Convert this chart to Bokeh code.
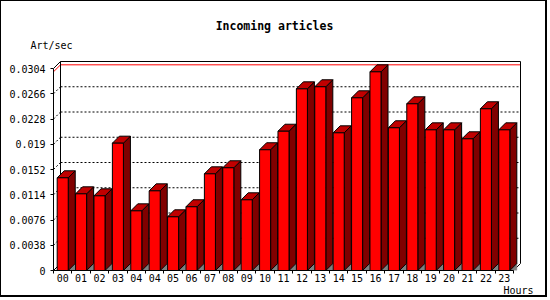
from bokeh.plotting import figure
from bokeh.models import FixedTicker, Title
from bokeh.embed import file_html
from bokeh.resources import INLINE

# ---------------- data ----------------
hours = ["00", "01", "02", "03", "04", "04", "05", "06", "07", "08", "09", "10",
         "11", "12", "13", "14", "15", "16", "17", "18", "19", "20", "21", "22", "23"]
rates = [0.01395, 0.01154, 0.01124, 0.01916, 0.00898, 0.01199, 0.00808, 0.00959,
         0.01455, 0.01546, 0.01064, 0.01817, 0.02096, 0.02734, 0.02765, 0.02072,
         0.02599, 0.02990, 0.02148, 0.02509, 0.02117, 0.02117, 0.01982, 0.02434,
         0.02117]
y_tick_labels = ["0", "0.0038", "0.0076", "0.0114", "0.0152", "0.019",
                 "0.0228", "0.0266", "0.0304"]
title_text = "Incoming articles"
y_label = "Art/sec"
x_label = "Hours"

# ---------------- geometry (page pixels) ----------------
FONT = "DejaVu Sans Mono"
BL, BT, BR, BB = 1, 1, 2, 2          # page border widths
CW, CH = 550 - BL - BR, 300 - BT - BB
FL, FB = 53, 270                     # front-left / front-bottom of the plot
STEP = 18.4                          # px per category
FRONT_TOP_PX = 68                    # page y of the top tick
DEPTH = 7                            # 3-D depth in px

n = len(hours)
y_ticks = [float(s) for s in y_tick_labels]
YMAX = y_ticks[-1]
YPX = (FB - FRONT_TOP_PX) / YMAX
dx = DEPTH / STEP
dy = DEPTH / YPX
x_end = n - 0.5 + (DEPTH + 1) / STEP
y_end = YMAX + (DEPTH + 1) / YPX
frame_right = FL + n * STEP + DEPTH + 1
frame_top = FRONT_TOP_PX - DEPTH - 1

p = figure(width=CW, height=CH, x_range=(-0.5, x_end), y_range=(0, y_end),
           output_backend="svg", toolbar_location=None,
           min_border_left=FL - BL, min_border_top=frame_top - BT,
           min_border_right=int(round(CW - (frame_right - BL))),
           min_border_bottom=CH - (FB - BT),
           background_fill_color="white", border_fill_color="white",
           styles={"border-top": "1px solid black", "border-left": "1px solid black",
                   "border-right": "2px solid black", "border-bottom": "2px solid black"})
p.outline_line_color = None
p.xgrid.visible = False
p.ygrid.visible = False

# ---------------- titles ----------------
TITLE_PX = 11.5
title_w = len(title_text) * 0.602 * TITLE_PX
p.title.text = title_text
p.title.align = "left"
p.title.offset = 274 - title_w / 2 - FL
p.title.text_font = FONT
p.title.text_font_size = f"{TITLE_PX}px"
p.title.text_font_style = "bold"
p.title.text_color = "black"
p.title.standoff = 0

t_y = Title(text=y_label, align="left", vertical_align="top", offset=30 - FL,
            text_font=FONT, text_font_size="10px", text_font_style="normal",
            text_color="black", standoff=15)
p.add_layout(t_y, "above")

t_x = Title(text=x_label, align="right", vertical_align="top",
            offset=-(533 - frame_right), text_font=FONT, text_font_size="10px",
            text_font_style="normal", text_color="black", standoff=0)
p.add_layout(t_x, "below")

# ---------------- axes ----------------
xa = p.xaxis[0]
xa.ticker = FixedTicker(ticks=list(range(n)), minor_ticks=[i - 0.5 for i in range(n + 1)])
xa.major_label_overrides = {i: h for i, h in enumerate(hours)}
xa.bounds = (-0.5, n - 0.5)
xa.major_tick_line_color = None
xa.major_tick_out = 0
xa.major_tick_in = 0
xa.minor_tick_line_color = "black"
xa.minor_tick_out = 3
xa.minor_tick_in = 0
xa.major_label_standoff = 0
xa.axis_line_color = "black"

ya = p.yaxis[0]
ya.ticker = FixedTicker(ticks=y_ticks, minor_ticks=[])
ya.major_label_overrides = {v: s for v, s in zip(y_ticks, y_tick_labels)}
ya.bounds = (0, YMAX)
ya.major_tick_out = 3
ya.major_tick_in = 0
ya.major_label_standoff = 5
ya.axis_line_color = "black"
ya.major_tick_line_color = "black"

for ax in (xa, ya):
    ax.major_label_text_font = FONT
    ax.major_label_text_font_size = "10px"
    ax.major_label_text_color = "black"

# ---------------- back walls, grid, max line ----------------
x_back_l = -0.5 + dx
x_back_r = n - 0.5 + dx
grid_vals = [v for v in y_ticks if 0 < v < YMAX]
p.segment(x0=[x_back_l] * len(grid_vals), y0=[v + dy for v in grid_vals],
          x1=[x_back_r] * len(grid_vals), y1=[v + dy for v in grid_vals],
          line_color="black", line_dash="2 2", line_width=1)
p.segment(x0=[-0.5] * len(grid_vals), y0=grid_vals,
          x1=[x_back_l] * len(grid_vals), y1=[v + dy for v in grid_vals],
          line_color="black", line_dash="2 2", line_width=1)

vmax = max(rates)
p.segment(x0=[x_back_l, -0.5], y0=[vmax + dy, vmax], x1=[x_back_r, x_back_l],
          y1=[vmax + dy, vmax + dy], line_color="red", line_width=1)

p.segment(x0=[x_back_l, x_back_l, x_back_r, -0.5, -0.5, n - 0.5],
          y0=[dy, YMAX + dy, dy, YMAX, 0, 0],
          x1=[x_back_l, x_back_r, x_back_r, x_back_l, x_back_l, x_back_r],
          y1=[YMAX + dy, YMAX + dy, YMAX + dy, YMAX + dy, dy, dy],
          line_color="black", line_width=1)

# ---------------- 3-D bars ----------------
half = 0.3
xs_idx = list(range(n))
shadow_xs, shadow_ys, side_xs, side_ys, top_xs, top_ys = [], [], [], [], [], []
for i, v in zip(xs_idx, rates):
    xr = i + half
    xl = i - half
    shadow_xs.append([xr, xr + dx, xr + dx])
    shadow_ys.append([0, dy, 0])
    side_xs.append([xr, xr + dx, xr + dx, xr])
    side_ys.append([0, dy, v + dy, v])
    top_xs.append([xl, xr, xr + dx, xl + dx])
    top_ys.append([v, v, v + dy, v + dy])

p.patches(shadow_xs, shadow_ys, fill_color="#808080", line_color="#808080", line_width=0.5)
p.patches(side_xs, side_ys, fill_color="#800000", line_color="black", line_width=1)
p.patches(top_xs, top_ys, fill_color="#c00000", line_color="black", line_width=1)
p.vbar(x=xs_idx, top=rates, bottom=0, width=2 * half,
       fill_color="#ff0000", line_color="black", line_width=1)

open("out.html", "w").write(file_html(p, INLINE))
